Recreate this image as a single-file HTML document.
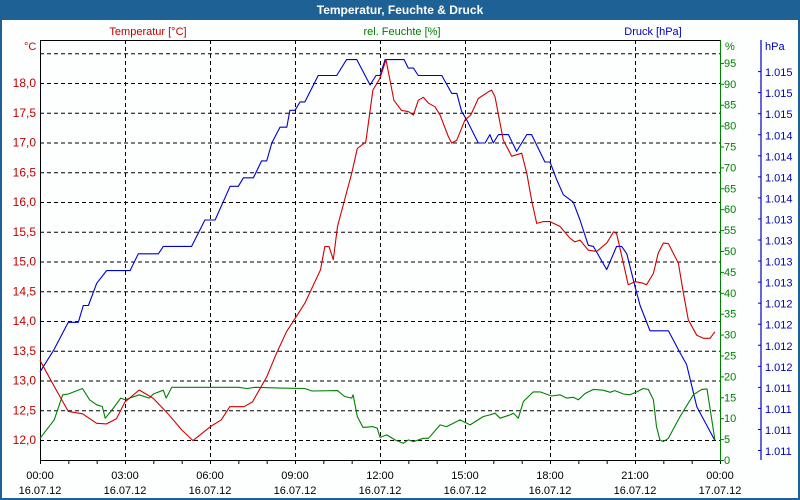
<!DOCTYPE html>
<html><head><meta charset="utf-8"><style>
html,body{margin:0;padding:0;background:#fff}
#wrap{position:relative;width:800px;height:500px;overflow:hidden;background:#fdfefe;font-family:"Liberation Sans",Tahoma,sans-serif}
svg{position:absolute;left:0;top:0}
svg text{font-family:"Liberation Sans",Tahoma,sans-serif;font-size:11px}
</style></head><body>
<div id="wrap">
<svg id="chart" width="800" height="500">
  <rect x="0" y="0" width="800" height="500" fill="#fdfefe"/>
  <rect x="0" y="0" width="800" height="20" fill="#1e6195"/>
  <rect x="0" y="20" width="2" height="480" fill="#1e6195"/>
  <rect x="798" y="20" width="2" height="480" fill="#1e6195"/>
  <rect x="0" y="498" width="800" height="2" fill="#1e6195"/>
  <text x="400" y="14" text-anchor="middle" fill="#fff" font-weight="bold" style="font-size:12px">Temperatur, Feuchte &amp; Druck</text>
  <text x="148" y="35" text-anchor="middle" fill="#c00000">Temperatur [°C]</text>
  <text x="402" y="35" text-anchor="middle" fill="#008000">rel. Feuchte [%]</text>
  <text x="653" y="35" text-anchor="middle" fill="#0000c0">Druck [hPa]</text>
  <text x="24" y="50" fill="#c00000">°C</text>
  <text x="725" y="50" fill="#008000">%</text>
  <text x="765" y="50" fill="#0000c0">hPa</text>
  <g id="grid"></g>
  <g id="axes"></g>
  <g id="series"></g>
</svg>
</div>
<script>
// ---- data ----
const tempTimes = [0,0.5,1,1.5,2,2.35,2.7,3,3.5,4,4.5,5,5.4,6,6.4,6.7,7.2,7.5,8,8.35,8.7,9,9.35,9.9,10.05,10.2,10.35,10.5,11,11.2,11.5,11.75,12,12.21,12.49,12.76,13,13.18,13.35,13.53,13.71,13.94,14.12,14.41,14.53,14.71,15,15.2,15.47,15.82,15.94,16.06,16.35,16.65,17,17.18,17.35,17.53,17.76,18,18.35,18.71,18.88,19.06,19.35,19.65,20,20.24,20.35,20.59,20.76,21,21.24,21.41,21.65,21.82,22,22.18,22.53,22.71,22.88,23.18,23.41,23.65,23.82];
const tempValues = [13.34,12.90,12.48,12.44,12.28,12.27,12.36,12.64,12.84,12.70,12.45,12.17,11.99,12.22,12.34,12.56,12.56,12.64,13.06,13.46,13.82,14.04,14.30,14.86,15.25,15.25,15.03,15.59,16.48,16.90,17.01,17.88,18.08,18.39,17.71,17.54,17.52,17.46,17.71,17.76,17.66,17.60,17.46,17.10,16.99,17.04,17.38,17.46,17.74,17.85,17.88,17.77,17.04,16.77,16.82,16.48,16.03,15.64,15.67,15.67,15.59,15.39,15.33,15.36,15.19,15.17,15.31,15.50,15.47,14.97,14.61,14.66,14.64,14.61,14.80,15.14,15.31,15.30,14.97,14.46,14.02,13.76,13.71,13.71,13.82];
const humTimes = [0,0.5,0.8,1,1.5,1.75,2,2.2,2.3,2.5,2.85,3,3.5,3.85,4,4.35,4.45,4.65,7.0,7.3,7.6,8.5,9.35,9.6,10.5,10.75,11,11.05,11.2,11.4,11.75,11.9,12,12.24,12.53,12.82,13,13.18,13.53,13.71,14.12,14.35,14.71,14.82,15.18,15.65,15.88,16.06,16.24,16.59,16.71,16.88,17.06,17.41,17.65,18.06,18.35,18.59,18.82,19,19.24,19.53,19.88,20.12,20.29,20.59,20.82,21.06,21.29,21.47,21.65,21.76,21.88,22,22.18,22.59,23.06,23.35,23.54,23.82];
const humValues = [5.2,9.6,15.6,15.8,17.1,14.4,13.2,12.8,10.0,11.6,14.8,14.4,15.6,14.8,15.8,16.7,14.8,17.4,17.4,17.1,17.4,17.2,17.1,16.5,16.6,15.2,14.8,15.6,10.4,7.8,8.0,7.6,5.4,6.0,4.8,4.0,4.8,4.4,5.2,5.2,8.4,8.0,9.2,9.6,8.4,10.4,10.8,11.2,10.0,10.8,11.2,10.0,14.0,16.3,16.3,15.3,15.6,14.8,15.0,14.4,15.9,16.9,16.7,16.2,16.6,15.8,15.6,16.3,17.1,16.9,14.4,8.0,4.8,4.4,5.2,10.4,15.6,16.9,17.0,4.8];
const presTimes = [0,0.49,1,1.35,1.53,1.71,2,2.35,3.18,3.47,4.18,4.35,5.35,5.82,6.18,6.71,7,7.18,7.53,7.82,8,8.18,8.47,8.71,8.82,9,9.18,9.35,9.82,10.47,10.82,11.18,11.65,11.86,12,12.18,12.85,13,13.18,13.35,14.18,14.53,14.71,14.88,15.06,15.47,15.71,15.88,16,16.18,16.53,16.82,17.18,17.35,17.82,18,18.24,18.47,18.82,19.06,19.35,19.53,20,20.35,20.53,20.71,21,21.18,21.53,22.18,22.59,22.82,23.18,23.82];
const presValues = [1011.74,1011.95,1012.21,1012.21,1012.37,1012.37,1012.58,1012.70,1012.70,1012.86,1012.86,1012.93,1012.93,1013.18,1013.18,1013.50,1013.50,1013.58,1013.58,1013.74,1013.74,1013.91,1014.06,1014.06,1014.22,1014.22,1014.30,1014.30,1014.55,1014.55,1014.70,1014.70,1014.46,1014.55,1014.55,1014.70,1014.70,1014.62,1014.62,1014.55,1014.55,1014.38,1014.38,1014.21,1014.13,1013.91,1013.91,1013.99,1013.91,1013.99,1013.99,1013.83,1013.99,1013.99,1013.73,1013.73,1013.56,1013.42,1013.35,1013.18,1012.94,1012.93,1012.71,1012.93,1012.93,1012.86,1012.55,1012.37,1012.13,1012.13,1011.92,1011.81,1011.41,1011.09];
const tempTicks = ["12,0","12,5","13,0","13,5","14,0","14,5","15,0","15,5","16,0","16,5","17,0","17,5","18,0"];
const tempTickValues = [12,12.5,13,13.5,14,14.5,15,15.5,16,16.5,17,17.5,18];
const humTicks = [0,5,10,15,20,25,30,35,40,45,50,55,60,65,70,75,80,85,90,95];
const presTicks = ["1.011","1.011","1.011","1.011","1.011","1.012","1.012","1.012","1.012","1.013","1.013","1.013","1.013","1.014","1.014","1.014","1.014","1.015","1.015","1.015"];
const timeLabels = ["00:00","03:00","06:00","09:00","12:00","15:00","18:00","21:00","00:00"];
const dateLabels = ["16.07.12","16.07.12","16.07.12","16.07.12","16.07.12","16.07.12","16.07.12","16.07.12","17.07.12"];

// ---- scales ----
const X0=40, X1=720, YT=40, YB=460;
const xS = h => X0 + h*(X1-X0)/24;
const yT = t => 83 + (18-t)*59.5;
const yH = v => 460 - v*4.18;
const yP = p => 450 - (p-1011)*105.5;
const yPi = i => 450 - i*21.05;

const NS="http://www.w3.org/2000/svg";
function mk(tag, attrs, parent){const e=document.createElementNS(NS,tag);for(const k in attrs)e.setAttribute(k,attrs[k]);parent.appendChild(e);return e;}
const grid=document.getElementById('grid'), axes=document.getElementById('axes'), series=document.getElementById('series');

// horizontal grid lines (temperature steps incl. 18.5)
const hLines = tempTickValues.concat([18.5]);
hLines.forEach(v=>{
  const l=mk('line',{x1:X0,x2:X1,y1:yT(v)+0.5,y2:yT(v)+0.5,stroke:'#000','stroke-dasharray':'4,3','stroke-width':1},grid);
  
  
});
for(let i=1;i<8;i++){
  const x=xS(i*3)+0.5;
  const l=mk('line',{x1:x,x2:x,y1:YT,y2:YB,stroke:'#000','stroke-dasharray':'4,3','stroke-width':1},grid);
  
  
}
// axes lines
let a;
a=mk('line',{x1:X0+0.5,x2:X0+0.5,y1:YT,y2:YB+1,stroke:'#000'},axes);


a=mk('line',{x1:X0,x2:X1,y1:YT+0.5,y2:YT+0.5,stroke:'#000'},axes);


a=mk('line',{x1:X0,x2:X1,y1:YB+0.5,y2:YB+0.5,stroke:'#000'},axes);


a=mk('line',{x1:X1+0.5,x2:X1+0.5,y1:YT,y2:YB+1,stroke:'#008000'},axes);


a=mk('line',{x1:761,x2:761,y1:YT,y2:YB,stroke:'#0000c0','stroke-width':1.2},axes);



// x ticks & labels
for(let h=0;h<=24;h++){
  const x=xS(h)+0.5;
  const t=mk('line',{x1:x,x2:x,y1:YB,y2:YB+4,stroke:'#000'},axes);
  
  
}
timeLabels.forEach((s,i)=>{
  const x=xS(i*3);
  const t=mk('text',{x:x,y:479,'text-anchor':'middle',fill:'#000'},axes);t.textContent=s;
  
  
  const d=mk('text',{x:x,y:494,'text-anchor':'middle',fill:'#000'},axes);d.textContent=dateLabels[i];
  
  
});
// temperature ticks
tempTickValues.forEach((v,i)=>{
  const t=mk('text',{x:36,y:yT(v)+4,'text-anchor':'end',fill:'#c00000',style:'font-size:12px'},axes);t.textContent=tempTicks[i];
  
  
});
// humidity ticks
humTicks.forEach(v=>{
  const y=yH(v);
  const l=mk('line',{x1:X1,x2:X1+4,y1:y+0.5,y2:y+0.5,stroke:'#008000'},axes);
  
  
  const t=mk('text',{x:724,y:y+4,fill:'#008000'},axes);t.textContent=v;
  
  
});
// pressure ticks
presTicks.forEach((s,i)=>{
  if(i===0)return;
  const y=yPi(i-1);
  const l=mk('line',{x1:758,x2:761,y1:y+0.5,y2:y+0.5,stroke:'#0000c0'},axes);
  
  
  const t=mk('text',{x:765,y:y+5,fill:'#0000c0'},axes);t.textContent=s;
  
  
});

// series
function poly(times, vals, ys, color, name){
  const pts=times.map((h,i)=>xS(h).toFixed(1)+','+ys(vals[i]).toFixed(1)).join(' ');
  const p=mk('polyline',{points:pts,fill:'none',stroke:color,'stroke-width':1.1,'stroke-linejoin':'round'},series);
  
  
}
poly(presTimes,presValues,yP,'#0000d0','pressure-line');
poly(humTimes,humValues,yH,'#008000','humidity-line');
poly(tempTimes,tempValues,yT,'#d00000','temperature-line');
</script>
</body></html>
